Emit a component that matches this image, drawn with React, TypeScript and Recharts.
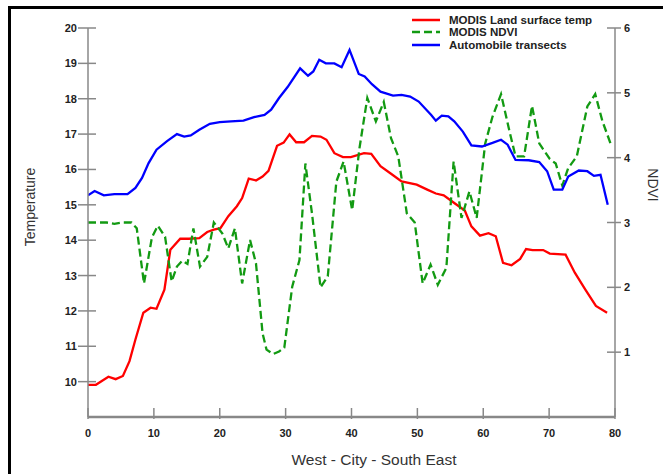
import React from "react";
import { ComposedChart, Line, XAxis, YAxis, Legend } from "recharts";

// West - City - South East transect (x in km-ish units)
const xTicks = [0, 10, 20, 30, 40, 50, 60, 70, 80];
const tempTicks = [10, 11, 12, 13, 14, 15, 16, 17, 18, 19, 20];
const ndviTicks = [1, 2, 3, 4, 5, 6];
const seriesNames = ["MODIS Land surface temp", "MODIS NDVI", "Automobile transects"];

// MODIS Land surface temp
const lstX = [0, 1.2, 3.1, 4.2, 5.3, 6.3, 7.2, 8.4, 9.5, 10.4, 11.6, 12.5, 14, 15.3, 16.9, 18.1, 19.1, 20.1, 21.3, 22.6, 23.4, 24.4, 25.5, 26.5, 27.4, 28.7, 29.7, 30.6, 31.6, 32.8, 34, 35.3, 36.2, 37.4, 38.7, 39.9, 41.9, 43, 44.4, 46, 47.6, 49.9, 51.5, 52.8, 54, 55.6, 57.2, 58.2, 59.5, 60.8, 61.9, 63, 64.3, 65.6, 66.5, 67.5, 69.1, 70.1, 72.5, 73.9, 75.5, 77.1, 78.8];
const lstY = [9.91, 9.91, 10.14, 10.07, 10.16, 10.58, 11.19, 11.95, 12.09, 12.06, 12.6, 13.73, 14.04, 14.04, 14.06, 14.23, 14.3, 14.34, 14.68, 14.96, 15.19, 15.74, 15.69, 15.8, 15.96, 16.67, 16.76, 16.99, 16.77, 16.77, 16.95, 16.93, 16.84, 16.46, 16.35, 16.35, 16.46, 16.44, 16.09, 15.88, 15.66, 15.57, 15.43, 15.32, 15.27, 15.05, 14.84, 14.39, 14.13, 14.2, 14.11, 13.36, 13.29, 13.47, 13.75, 13.72, 13.72, 13.62, 13.59, 13.08, 12.6, 12.14, 11.95];

// MODIS NDVI
const ndviX = [0, 2.8, 4, 5.3, 6.6, 7.4, 8.5, 9.7, 10.6, 11.7, 12.7, 13.5, 14.3, 15.1, 16, 17, 18.1, 19.1, 20.4, 21.3, 22.3, 23.4, 24.6, 25.5, 26.5, 27.1, 28.1, 29, 29.8, 31, 32.1, 33, 34, 35.3, 36.4, 37.7, 38.8, 40.1, 41.2, 42.4, 43.7, 44.9, 46, 47.1, 48.4, 49.6, 50.8, 52, 53.1, 54.4, 55.5, 56.7, 57.9, 59, 60.3, 61.4, 62.7, 64, 64.9, 66.2, 67.4, 68.5, 70.1, 71, 72, 72.9, 74.2, 75.8, 77, 78.1, 79.5];
const ndviY = [3.0, 3.0, 2.98, 3.0, 3.0, 2.91, 2.06, 2.77, 2.95, 2.78, 2.09, 2.32, 2.41, 2.36, 2.91, 2.32, 2.47, 3.0, 2.83, 2.6, 2.91, 2.06, 2.73, 2.37, 1.29, 1.04, 0.97, 1.01, 1.07, 2.01, 2.42, 3.91, 3.14, 2.0, 2.17, 3.63, 3.94, 3.19, 4.14, 4.92, 4.56, 4.86, 4.3, 4.02, 3.14, 3.0, 2.06, 2.35, 2.04, 2.3, 3.94, 3.07, 3.48, 3.07, 4.22, 4.63, 4.98, 4.4, 4.02, 4.02, 4.8, 4.22, 3.98, 3.91, 3.57, 3.84, 4.02, 4.79, 4.98, 4.56, 4.17];

// Automobile transects
const autoX = [0, 1, 2.4, 4, 6, 7.2, 8.2, 9.2, 10.4, 12, 13.5, 14.6, 15.6, 16.9, 18.5, 20, 21.7, 23.6, 25.2, 26.8, 27.8, 29, 30.3, 32.2, 33.4, 34.2, 35.1, 36.1, 37.4, 38.5, 39.7, 41.1, 42, 43.1, 44.4, 46.3, 47.6, 48.9, 50.2, 52.1, 52.8, 53.7, 54.7, 55.6, 56.9, 58.2, 59.8, 61.4, 62.7, 63.7, 64.9, 66.9, 68.5, 69.7, 70.7, 72, 72.9, 74.5, 75.8, 76.8, 77.8, 78.9];
const autoY = [15.27, 15.39, 15.27, 15.3, 15.3, 15.48, 15.76, 16.18, 16.56, 16.8, 17.0, 16.93, 16.96, 17.12, 17.29, 17.34, 17.36, 17.38, 17.48, 17.54, 17.69, 18.02, 18.33, 18.86, 18.65, 18.77, 19.1, 19.0, 19.0, 18.89, 19.38, 18.7, 18.63, 18.41, 18.2, 18.09, 18.11, 18.06, 17.92, 17.54, 17.38, 17.52, 17.5, 17.36, 17.07, 16.68, 16.65, 16.75, 16.84, 16.7, 16.27, 16.26, 16.21, 15.95, 15.43, 15.43, 15.8, 15.97, 15.95, 15.82, 15.85, 15.0];

const lstData = lstX.map((x, i) => ({ x, y: lstY[i] }));
const ndviData = ndviX.map((x, i) => ({ x, y: ndviY[i] }));
const autoData = autoX.map((x, i) => ({ x, y: autoY[i] }));

const FONT = "'Liberation Sans', Arial, sans-serif";
const AXIS = "#888";

const LeftTick = (props: any) => {
  const { x, y, payload } = props;
  return (
    <g>
      <line x1={x - 10} x2={x + 8} y1={y} y2={y} stroke={AXIS} strokeWidth={1.5} />
      <text x={x - 11} y={y} dy={4} textAnchor="end" fontSize={11} fontWeight="bold" fill="#222" fontFamily={FONT}>
        {payload.value}
      </text>
    </g>
  );
};

const RightTick = (props: any) => {
  const { x, y, payload } = props;
  return (
    <g>
      <line x1={x - 8} x2={x + 6} y1={y} y2={y} stroke={AXIS} strokeWidth={1.5} />
      <text x={x + 9} y={y} dy={4} textAnchor="start" fontSize={11} fontWeight="bold" fill="#222" fontFamily={FONT}>
        {payload.value}
      </text>
    </g>
  );
};

const BottomTick = (props: any) => {
  const { x, y, payload } = props;
  return (
    <g>
      <line x1={x} x2={x} y1={y - 9} y2={y + 2} stroke={AXIS} strokeWidth={1.5} />
      <text x={x} y={y + 20} textAnchor="middle" fontSize={11} fontWeight="bold" fill="#222" fontFamily={FONT}>
        {payload.value}
      </text>
    </g>
  );
};

const renderLegend = (props: any) => {
  // keep the series order of the original legend
  const items = [...(props.payload || [])].sort(
    (a: any, b: any) => seriesNames.indexOf(a.value) - seriesNames.indexOf(b.value)
  );
  return (
    <div style={{ fontFamily: FONT, fontSize: 11.5, fontWeight: "bold", color: "#222" }}>
      {items.map((entry: any) => (
        <div key={entry.value} style={{ display: "flex", alignItems: "center", height: 12.3 }}>
          <svg width={30} height={6} style={{ display: "block" }}>
            <line
              x1={1}
              x2={29}
              y1={3}
              y2={3}
              stroke={entry.color}
              strokeWidth={2.5}
              strokeDasharray={entry.payload && entry.payload.strokeDasharray}
            />
          </svg>
          <span style={{ marginLeft: 8, whiteSpace: "nowrap" }}>{entry.value}</span>
        </div>
      ))}
    </div>
  );
};

export default function App() {
  return (
    <div style={{ position: "absolute", left: 0, top: 0, width: 663, height: 474, overflow: "hidden", background: "#fff" }}>
      <div style={{ position: "absolute", left: 8, top: 6, width: 700, height: 520, border: "3px solid #000" }} />
      <div style={{ position: "absolute", left: 0, top: 0 }}>
        <ComposedChart width={663} height={474} margin={{ top: 28, right: 0, bottom: 0, left: 0 }}>
          <XAxis
            dataKey="x"
            type="number"
            domain={[0, 80]}
            ticks={xTicks}
            allowDataOverflow
            height={57}
            tickSize={0}
            tickMargin={0}
            tickLine={false}
            axisLine={{ stroke: AXIS, strokeWidth: 2.5 }}
            tick={<BottomTick />}
            interval={0}
          />
          <YAxis
            yAxisId="left"
            orientation="left"
            domain={[9, 20]}
            ticks={tempTicks}
            allowDataOverflow
            width={88}
            tickSize={0}
            tickMargin={0}
            tickLine={false}
            axisLine={{ stroke: AXIS, strokeWidth: 1.5 }}
            tick={<LeftTick />}
            interval={0}
          />
          <YAxis
            yAxisId="right"
            orientation="right"
            domain={[0, 6]}
            ticks={ndviTicks}
            allowDataOverflow
            width={48}
            tickSize={0}
            tickMargin={0}
            tickLine={false}
            axisLine={{ stroke: AXIS, strokeWidth: 1.5 }}
            tick={<RightTick />}
            interval={0}
          />
          <Legend
            layout="vertical"
            align="center"
            verticalAlign="middle"
            wrapperStyle={{ left: 411, top: 14, width: 220 }}
            content={renderLegend}
          />
          <Line
            name={seriesNames[0]}
            yAxisId="left"
            data={lstData}
            dataKey="y"
            type="linear"
            stroke="#ff0000"
            strokeWidth={2.3}
            dot={false}
            isAnimationActive={false}
          />
          <Line
            name={seriesNames[1]}
            yAxisId="right"
            data={ndviData}
            dataKey="y"
            type="linear"
            stroke="#129a12"
            strokeWidth={2.3}
            strokeDasharray="8 4"
            dot={false}
            isAnimationActive={false}
          />
          <Line
            name={seriesNames[2]}
            yAxisId="left"
            data={autoData}
            dataKey="y"
            type="linear"
            stroke="#0000ff"
            strokeWidth={2.3}
            dot={false}
            isAnimationActive={false}
          />
          <text x={30} y={207} transform="rotate(-90 30 207)" textAnchor="middle" dominantBaseline="central" fontSize={14} fill="#333" fontFamily={FONT}>
            Temperature
          </text>
          <text x={653} y={185} transform="rotate(90 653 185)" textAnchor="middle" dominantBaseline="central" fontSize={14} fill="#333" fontFamily={FONT}>
            NDVI
          </text>
          <text x={374} y={459} textAnchor="middle" dominantBaseline="central" fontSize={15.5} fill="#333" fontFamily={FONT}>
            West - City - South East
          </text>
        </ComposedChart>
      </div>
    </div>
  );
}
